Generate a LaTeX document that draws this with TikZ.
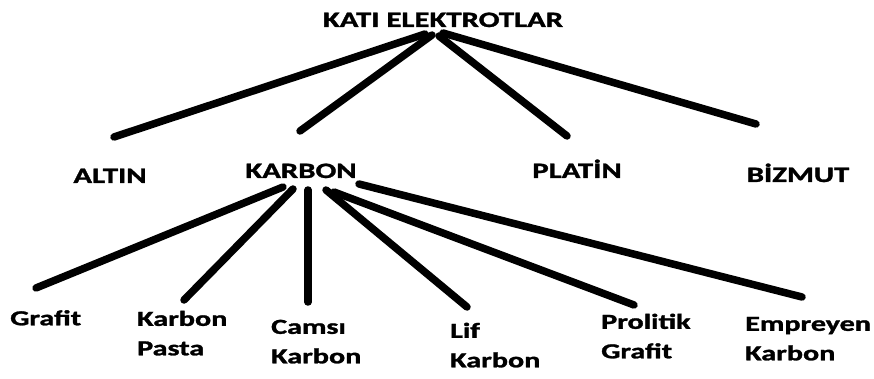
\documentclass[tikz,border=0pt]{standalone}
\usepackage{fontspec}
\setmainfont{Carlito}[BoldFeatures={FakeBold=1.2}]
\newcommand\wideA[1]{\scalebox{1.4}[1]{#1}}
\newcommand\wideB[1]{\scalebox{1.4}[1]{#1}}
\begin{document}
\begin{tikzpicture}[x=1pt,y=-1pt,
  bigl/.style={font=\fontsize{22}{26}\selectfont\bfseries, inner sep=0pt, anchor=base},
  smalll/.style={font=\fontsize{21.5}{29.5}\selectfont\bfseries, inner sep=0pt, anchor=north west},
  bar/.style={line width=7.5pt, line cap=round}]
\useasboundingbox (0,0) rectangle (874,379);
\fill[white] (0,0) rectangle (874,379);
% labels
\node[bigl] (kati) at (443,27) {\wideA{KATI ELEKTROTLAR}};
\node[bigl] (altin) at (110,183) {\wideA{ALTIN}};
\node[bigl] (karbon) at (301,178) {\wideA{KARBON}};
\node[bigl] (platin) at (577,178) {\wideA{PLATİN}};
\node[bigl] (bizmut) at (798,182) {\wideA{BİZMUT}};
\node[smalll] (grafit) at (10,310) {\wideB{Grafit}};
\node[smalll] (pasta) at (137,305) {\wideB{\begin{tabular}{@{}l@{}}Karbon\\Pasta\end{tabular}}};
\node[smalll] (camsi) at (271,313) {\wideB{\begin{tabular}{@{}l@{}}Camsı\\Karbon\end{tabular}}};
\node[smalll] (lif) at (450,317) {\wideB{\begin{tabular}{@{}l@{}}Lif\\Karbon\end{tabular}}};
\node[smalll] (prolitik) at (601,308) {\wideB{\begin{tabular}{@{}l@{}}Prolitik\\Grafit\end{tabular}}};
\node[smalll] (empreyen) at (745,310) {\wideB{\begin{tabular}{@{}l@{}}Empreyen\\Karbon\end{tabular}}};
% connector end points
\coordinate (k1) at (425,34);
\coordinate (k2) at (432,35);
\coordinate (k3) at (439,36);
\coordinate (k4) at (443,33);
\coordinate (e1) at (114,137);
\coordinate (e2) at (300,131);
\coordinate (e3) at (567,136);
\coordinate (e4) at (756,124);
\coordinate (c1) at (283,187);
\coordinate (c2) at (293,189);
\coordinate (c3) at (308,190);
\coordinate (c4) at (326,190);
\coordinate (c5) at (334,192);
\coordinate (c6) at (359,184);
\coordinate (g1) at (36,288);
\coordinate (g2) at (184,300);
\coordinate (g3) at (308,302);
\coordinate (g4) at (467,307);
\coordinate (g5) at (634,305);
\coordinate (g6) at (802,297);
% connectors
\draw[bar] (k1) -- (e1);
\draw[bar] (k2) -- (e2);
\draw[bar] (k3) -- (e3);
\draw[bar] (k4) -- (e4);
\draw[bar] (c1) -- (g1);
\draw[bar] (c2) -- (g2);
\draw[bar] (c3) -- (g3);
\draw[bar] (c4) -- (g4);
\draw[bar] (c5) -- (g5);
\draw[bar] (c6) -- (g6);
\end{tikzpicture}
\end{document}
